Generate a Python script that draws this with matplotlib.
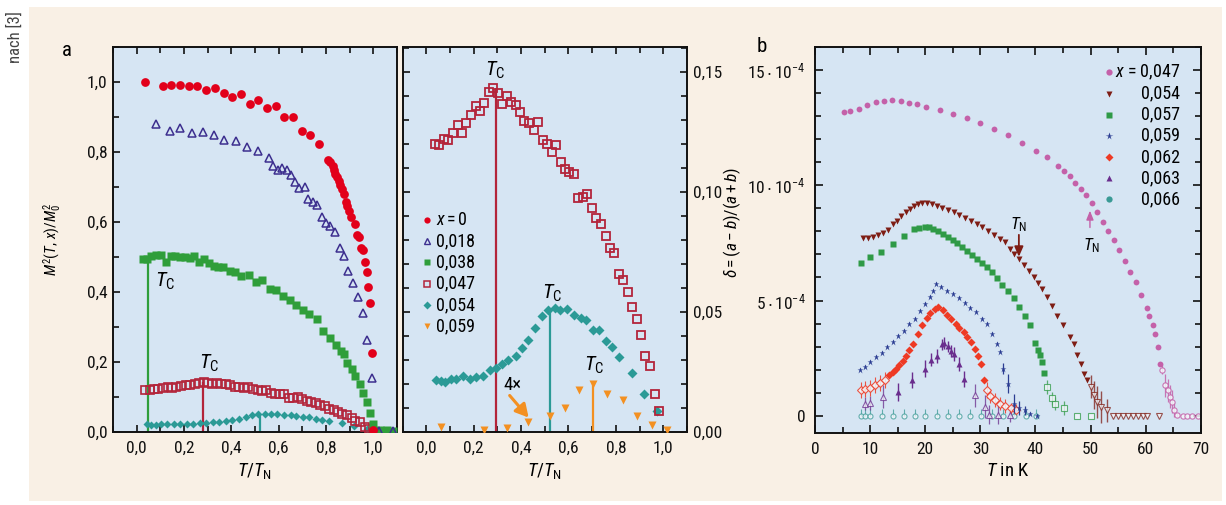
import matplotlib
matplotlib.use("Agg")
import matplotlib.pyplot as plt
from matplotlib import font_manager as fm
from matplotlib.patches import Rectangle
from matplotlib.ticker import MultipleLocator

# ---------------- fonts ----------------
names = {f.name for f in fm.fontManager.ttflist}
base = "DejaVu Sans"
for cand in ["Liberation Sans Narrow", "Roboto Condensed", "Open Sans Condensed", "Liberation Sans"]:
    if cand in names:
        base = cand
        break
plt.rcParams["font.family"] = [base, "DejaVu Sans"]
plt.rcParams["mathtext.fontset"] = "custom"
plt.rcParams["mathtext.rm"] = base
plt.rcParams["mathtext.it"] = base + ":italic"
plt.rcParams["mathtext.bf"] = base + ":bold"
plt.rcParams["mathtext.sf"] = base
plt.rcParams["mathtext.fallback"] = "stixsans"

# ---------------- data: panel a (left) ----------------
a_x0_T = [0.037, 0.110, 0.147, 0.184, 0.220, 0.257, 0.294, 0.331, 0.367, 0.404, 0.441, 0.477, 0.514, 0.551,
          0.588, 0.624, 0.661, 0.698, 0.734, 0.771, 0.809, 0.819, 0.828, 0.833, 0.839, 0.845, 0.853, 0.859,
          0.866, 0.876, 0.884, 0.890, 0.898, 0.907, 0.922, 0.932, 0.939, 0.949, 0.955, 0.963, 0.972, 0.979,
          0.986, 0.993, 1.000]
a_x0_M = [1.000, 0.989, 0.991, 0.992, 0.988, 0.988, 0.977, 0.982, 0.969, 0.956, 0.965, 0.936, 0.949, 0.926,
          0.932, 0.901, 0.901, 0.861, 0.848, 0.823, 0.776, 0.771, 0.760, 0.749, 0.737, 0.728, 0.716, 0.706,
          0.695, 0.680, 0.658, 0.647, 0.632, 0.615, 0.593, 0.563, 0.556, 0.527, 0.520, 0.486, 0.457, 0.414,
          0.369, 0.225, 0.005]

a_x018_T = [0.082, 0.141, 0.184, 0.233, 0.280, 0.325, 0.371, 0.418, 0.466, 0.513, 0.559, 0.576, 0.597, 0.616,
            0.636, 0.650, 0.668, 0.686, 0.710, 0.725, 0.743, 0.763, 0.784, 0.798, 0.819, 0.840, 0.859, 0.876,
            0.895, 0.915, 0.934, 0.955, 0.972, 0.993, 1.025, 1.085]
a_x018_M = [0.881, 0.860, 0.868, 0.854, 0.856, 0.850, 0.835, 0.832, 0.813, 0.804, 0.784, 0.761, 0.749, 0.754,
            0.749, 0.734, 0.713, 0.698, 0.701, 0.667, 0.658, 0.649, 0.613, 0.596, 0.589, 0.571, 0.527, 0.503,
            0.460, 0.427, 0.386, 0.340, 0.263, 0.153, 0.003, 0.003]

a_x038_T = [0.028, 0.042, 0.061, 0.082, 0.103, 0.124, 0.143, 0.164, 0.184, 0.206, 0.226, 0.244, 0.263, 0.284,
            0.305, 0.325, 0.345, 0.364, 0.393, 0.414, 0.442, 0.475, 0.503, 0.531, 0.562, 0.590, 0.619, 0.647,
            0.675, 0.701, 0.729, 0.760, 0.788, 0.816, 0.842, 0.862, 0.876, 0.890, 0.910, 0.924, 0.944, 0.958,
            0.972, 0.986, 1.000, 1.028, 1.056, 1.085]
a_x038_M = [0.493, 0.495, 0.503, 0.505, 0.505, 0.487, 0.503, 0.503, 0.499, 0.499, 0.497, 0.503, 0.486, 0.493,
            0.484, 0.474, 0.472, 0.472, 0.460, 0.456, 0.445, 0.448, 0.429, 0.434, 0.410, 0.407, 0.390, 0.376,
            0.362, 0.349, 0.338, 0.322, 0.289, 0.268, 0.248, 0.232, 0.222, 0.198, 0.179, 0.160, 0.136, 0.112,
            0.085, 0.054, 0.022, 0.006, 0.006, 0.003]

# series shown in both panels (x = 0.047, 0.054) and x = 0.059 (middle only)
x047_T = [0.035, 0.055, 0.075, 0.092, 0.113, 0.132, 0.151, 0.168, 0.188, 0.208, 0.226, 0.245, 0.264, 0.283,
          0.303, 0.320, 0.339, 0.358, 0.378, 0.396, 0.414, 0.434, 0.453, 0.471, 0.491, 0.511, 0.529, 0.547,
          0.567, 0.586, 0.604, 0.624, 0.642, 0.660, 0.680, 0.700, 0.718, 0.737, 0.757, 0.775, 0.794, 0.813,
          0.832, 0.851, 0.868, 0.887, 0.908, 0.924, 0.943, 0.963, 0.983]
x047_M = [0.1201, 0.1197, 0.1222, 0.1215, 0.1243, 0.1278, 0.1243, 0.1287, 0.1319, 0.1357, 0.1338, 0.1368,
          0.1414, 0.1433, 0.1410, 0.1365, 0.1399, 0.1374, 0.1361, 0.1332, 0.1294, 0.1285, 0.1257, 0.1292,
          0.1215, 0.1201, 0.1167, 0.1194, 0.1125, 0.1097, 0.1083, 0.1076, 0.0976, 0.0979, 0.0989, 0.0931,
          0.0893, 0.0868, 0.0817, 0.0768, 0.0747, 0.0656, 0.0632, 0.0581, 0.0521, 0.0472, 0.0403, 0.0315,
          0.0274, 0.0157, 0.0089]

x054_T = [0.042, 0.061, 0.081, 0.103, 0.127, 0.156, 0.184, 0.212, 0.240, 0.269, 0.293, 0.321, 0.347, 0.378,
          0.403, 0.431, 0.460, 0.488, 0.513, 0.542, 0.566, 0.594, 0.622, 0.651, 0.675, 0.703, 0.728, 0.757,
          0.785, 0.813, 0.867, 0.919, 0.973]
x054_M = [0.0215, 0.0211, 0.0208, 0.0222, 0.0219, 0.0232, 0.0222, 0.0229, 0.0232, 0.0260, 0.0268, 0.0282,
          0.0299, 0.0315, 0.0351, 0.0385, 0.0435, 0.0482, 0.0507, 0.0518, 0.0510, 0.0514, 0.0486, 0.0476,
          0.0465, 0.0426, 0.0424, 0.0379, 0.0354, 0.0312, 0.0247, 0.0160, 0.0086]

x059_T = [0.064, 0.245, 0.339, 0.431, 0.523, 0.587, 0.646, 0.704, 0.764, 0.830, 0.891, 0.952, 1.014]
x059_M = [0.0021, 0.0007, 0.0018, 0.0042, 0.0065, 0.0101, 0.0176, 0.0199, 0.0160, 0.0132, 0.0065, 0.0029, 0.0010]

# T_C positions and heights
a_tc_T = [0.049, 0.282, 0.523]
a_tc_M = [0.490, 0.142, 0.050]
m_tc_T = [0.293, 0.523, 0.704]
m_tc_M = [0.1433, 0.0507, 0.0199]

a_legend = ["$x = 0$", "0,018", "0,038", "0,047", "0,054", "0,059"]
a_xticks = [0.0, 0.2, 0.4, 0.6, 0.8, 1.0]
a_xticklabels = ["0,0", "0,2", "0,4", "0,6", "0,8", "1,0"]
a_yticks = [0.0, 0.2, 0.4, 0.6, 0.8, 1.0]
a_yticklabels = ["0,0", "0,2", "0,4", "0,6", "0,8", "1,0"]
m_yticks = [0.0, 0.05, 0.10, 0.15]
m_yticklabels = ["0,00", "0,05", "0,10", "0,15"]

# ---------------- data: panel b (delta in units of 1e-4) ----------------
b047_T = [5.3, 6.3, 7.9, 9.4, 11.0, 12.5, 14.0, 15.6, 17.1, 18.6, 20.1, 22.6, 25.1, 27.5, 30.0, 32.5, 35.0,
          37.6, 40.1, 42.1, 44.1, 45.2, 46.3, 47.2, 48.2, 49.2, 50.2, 51.1, 52.2, 53.2, 54.3, 55.2, 56.2,
          57.2, 58.2, 59.1, 60.2, 60.7, 61.3, 61.7, 62.2, 62.6]
b047_d = [13.20, 13.24, 13.33, 13.49, 13.62, 13.66, 13.70, 13.66, 13.56, 13.53, 13.39, 13.27, 13.10, 12.91,
          12.72, 12.44, 12.19, 11.83, 11.47, 11.21, 10.82, 10.61, 10.39, 10.10, 9.84, 9.57, 9.24, 8.83, 8.40,
          8.01, 7.61, 7.19, 6.70, 6.25, 5.79, 5.22, 4.68, 4.35, 3.92, 3.53, 2.98, 2.25]
b047o_T = [63.0, 63.6, 64.0, 64.4, 64.8, 65.1, 65.7, 66.7, 67.6, 68.5, 69.5]
b047o_d = [2.00, 1.33, 1.11, 0.82, 0.60, 0.25, 0.03, 0.0, 0.0, 0.0, 0.0]
b047o_e = [0.2, 0.5, 0.5, 0.5, 0.5, 0.3, 0.1, 0.0, 0.0, 0.0, 0.0]

b054_T = [8.8, 9.7, 10.6, 11.5, 12.4, 13.2, 14.1, 14.8, 15.6, 16.5, 17.3, 18.0, 18.7, 19.4, 20.3, 21.2, 22.1,
          23.0, 24.1, 25.2, 26.2, 27.3, 28.4, 29.4, 30.3, 31.4, 32.4, 33.5, 34.4, 35.3, 36.2, 37.0, 37.9, 38.8,
          39.7, 40.5, 41.2, 42.1, 43.0, 43.9, 45.0, 46.2, 47.0, 47.6, 48.2, 48.8, 49.4]
b054_d = [7.71, 7.71, 7.77, 7.85, 7.95, 8.05, 8.31, 8.46, 8.67, 8.82, 8.96, 9.11, 9.21, 9.25, 9.24, 9.21, 9.11,
          9.01, 8.92, 8.82, 8.72, 8.57, 8.43, 8.31, 8.17, 8.00, 7.85, 7.67, 7.52, 7.23, 7.02, 6.80, 6.56, 6.30,
          6.01, 5.75, 5.50, 5.14, 4.78, 4.31, 3.92, 3.42, 3.13, 2.62, 2.26, 1.83, 1.54]
b054o_T = [50.0, 50.6, 51.2, 51.9, 53.0, 54.1, 55.0, 55.9, 56.8, 57.8, 58.6, 59.5, 60.3, 62.4]
b054o_d = [1.25, 0.89, 0.61, 0.39, 0.24, 0.0, 0.0, 0.0, 0.0, 0.0, 0.0, 0.0, 0.0, 0.0]
b054o_e = [0.5, 0.6, 0.7, 0.7, 0.5, 0.0, 0.0, 0.0, 0.0, 0.0, 0.0, 0.0, 0.0, 0.0]

b057_T = [8.4, 10.0, 12.0, 14.1, 16.1, 18.0, 18.9, 19.9, 20.7, 21.5, 22.4, 23.3, 24.1, 25.0, 25.8, 26.7, 27.6,
          28.5, 29.4, 30.3, 31.2, 32.1, 33.0, 33.9, 35.0, 36.2, 37.1, 38.1, 39.1, 40.0, 40.5, 40.9, 41.2, 41.5]
b057_d = [6.61, 6.87, 7.09, 7.45, 7.81, 8.10, 8.14, 8.17, 8.20, 8.10, 8.03, 7.88, 7.74, 7.62, 7.48, 7.33, 7.16,
          6.99, 6.80, 6.61, 6.44, 6.25, 5.98, 5.69, 5.43, 5.12, 4.74, 4.31, 3.92, 3.16, 2.87, 2.62, 2.33, 1.86]
b057o_T = [42.1, 43.0, 43.6, 45.2, 47.5, 50.1]
b057o_d = [1.25, 0.75, 0.53, 0.32, 0.0, 0.0]
b057o_e = [0.3, 0.3, 0.3, 0.3, 0.0, 0.0]

b059_T = [8.2, 9.1, 10.0, 11.1, 12.1, 13.0, 14.1, 15.0, 16.1, 17.0, 18.1, 19.1, 20.0, 20.9, 21.4, 22.0, 22.9,
          23.9, 25.0, 26.1, 27.2, 28.2, 29.2, 30.3, 31.3, 32.2, 33.0, 33.6, 34.1, 35.0, 36.1, 37.1, 38.1, 39.1, 40.3]
b059_d = [1.97, 2.12, 2.33, 2.55, 2.72, 2.98, 3.20, 3.44, 3.70, 3.99, 4.21, 4.54, 4.86, 5.17, 5.43, 5.72, 5.58,
          5.43, 5.29, 5.12, 4.88, 4.68, 4.50, 4.21, 3.99, 3.56, 3.13, 2.77, 2.05, 1.40, 0.53, 0.32, 0.24, 0.07, 0.01]
b059_e = [0, 0, 0, 0, 0, 0, 0, 0, 0, 0, 0, 0, 0, 0, 0, 0, 0,
          0, 0, 0, 0, 0, 0, 0, 0, 0, 0, 0, 0.25, 0.4, 0.4, 0.3, 0.2, 0, 0]

b062_T = [13.5, 14.1, 14.7, 15.3, 15.9, 16.5, 17.1, 17.7, 18.7, 19.5, 20.3, 20.9, 21.7, 22.4, 23.2, 23.9, 24.7,
          25.5, 26.1, 27.0, 27.6, 28.4, 29.0, 29.6, 30.2, 30.6]
b062_d = [1.76, 1.90, 2.05, 2.19, 2.38, 2.58, 2.87, 3.13, 3.53, 3.92, 4.25, 4.45, 4.64, 4.71, 4.60, 4.39, 4.21,
          3.99, 3.82, 3.63, 3.42, 3.20, 2.91, 2.58, 2.23, 1.54]
b062o_T = [8.4, 9.1, 10.0, 10.9, 11.8, 12.7, 31.2, 31.8, 32.7, 33.6, 34.5, 35.5, 36.4]
b062o_d = [1.11, 1.15, 1.22, 1.33, 1.43, 1.54, 1.11, 0.85, 0.68, 0.53, 0.42, 0.32, 0.24]
b062o_e = [0.35, 0.35, 0.35, 0.35, 0.35, 0.35, 0.35, 0.3, 0.3, 0.3, 0.3, 0.25, 0.25]

b063_T = [15.0, 17.6, 20.0, 21.1, 22.1, 23.0, 23.5, 24.1, 24.7, 25.2, 26.1, 27.0]
b063_d = [1.04, 1.57, 2.05, 2.44, 2.58, 3.10, 3.16, 3.01, 2.81, 2.69, 2.26, 1.61]
b063_e = [0.40, 0.35, 0.35, 0.30, 0.30, 0.25, 0.25, 0.25, 0.25, 0.30, 0.30, 0.35]
b063o_T = [9.1, 10.0, 12.4, 29.1, 30.9, 31.5, 33.3, 35.3]
b063o_d = [0.53, 0.56, 0.82, 0.89, 0.39, 0.05, 0.05, 0.05]
b063o_e = [0.3, 0.3, 0.5, 0.5, 0.5, 0.4, 0.4, 0.3]

b066_T = [8.4, 9.1, 10.0, 12.1, 14.1, 16.1, 18.1, 20.0, 22.1, 24.1, 26.1, 28.2, 30.2, 32.1, 34.2, 36.2, 38.3, 40.1]
b066_d = [0.0, 0.0, 0.0, 0.0, 0.0, 0.0, 0.0, 0.0, 0.0, 0.0, 0.0, 0.0, 0.0, 0.0, 0.0, 0.0, 0.0, 0.0]
b066_e = [0.3, 0.3, 0.3, 0.3, 0.3, 0.3, 0.3, 0.3, 0.3, 0.3, 0.3, 0.3, 0.3, 0.3, 0.3, 0.3, 0.3, 0.3]

b_legend = ["$x$ = 0,047", "0,054", "0,057", "0,059", "0,062", "0,063", "0,066"]
b_xticks = [0, 10, 20, 30, 40, 50, 60, 70]
b_yticks = [0, 5, 10, 15]
b_yticklabels = ["0", r"$5\cdot10^{-4}$", r"$10\cdot10^{-4}$", r"$15\cdot10^{-4}$"]
b_TN_T = [37.0, 49.9]
b_TN_d = [6.9, 8.9]

# ---------------- styles ----------------
C_RED = "#e2001a"
C_VIO = "#3d2f8f"
C_GRN = "#2f9e3a"
C_DRD = "#b3243a"
C_TEA = "#2b9a96"
C_ORA = "#f39021"
B_PNK = "#c461a9"
B_BRN = "#7e1d14"
B_GRN = "#2f9a46"
B_BLU = "#2b3d92"
B_RED = "#ee3a24"
B_PUR = "#6a2d8d"
B_TEA = "#3a9a95"
AX_BG = "#d6e5f3"
BEIGE = "#f9f0e5"
FS = 12.5

W, H = 1226, 505
fig = plt.figure(figsize=(W / 100, H / 100), dpi=100)
fig.patch.set_facecolor("white")
fig.add_artist(Rectangle((29 / W, 4 / H), (1222 - 29) / W, (498 - 4) / H,
                         transform=fig.transFigure, facecolor=BEIGE, edgecolor="none", zorder=-5))


def px_axes(l, t, r, b):
    return fig.add_axes([l / W, 1 - b / H, (r - l) / W, (b - t) / H])


def style_axes(ax, left=True, right=False):
    ax.set_facecolor(AX_BG)
    for s in ax.spines.values():
        s.set_linewidth(1.4)
        s.set_color("#111111")
    ax.tick_params(which="both", direction="in", top=True, bottom=True, left=left, right=right,
                   width=1.2, labelsize=FS, colors="#111111")
    ax.tick_params(which="major", length=5)
    ax.tick_params(which="minor", length=4)


ax_a = px_axes(113, 47, 397, 432)
ax_m = px_axes(402.5, 47, 687, 432)
ax_b = px_axes(815, 47, 1200.7, 433.3)

# ---------- panel a ----------
style_axes(ax_a)
ax_a.set_xlim(-0.1, 1.1)
ax_a.set_ylim(0.0, 1.1)
ax_a.set_xticks(a_xticks, a_xticklabels)
ax_a.set_yticks(a_yticks, a_yticklabels)
ax_a.xaxis.set_minor_locator(MultipleLocator(0.1))
ax_a.yaxis.set_minor_locator(MultipleLocator(0.1))
ax_a.tick_params(axis="x", pad=6)
ax_a.tick_params(axis="y", pad=4)

ax_a.vlines(a_tc_T, 0, a_tc_M, colors=[C_GRN, C_DRD, C_TEA], lw=1.6, zorder=2)
ax_a.plot(x054_T, x054_M, "D", color=C_TEA, ms=4.2, mec="none", zorder=3)
ax_a.plot(x047_T, x047_M, "s", mfc="none", mec=C_DRD, mew=1.2, ms=5.2, zorder=3)
ax_a.plot(a_x038_T, a_x038_M, "s", color=C_GRN, ms=5.6, mec="none", zorder=3)
ax_a.plot(a_x018_T, a_x018_M, "^", mfc="none", mec=C_VIO, mew=1.1, ms=6, zorder=3)
ax_a.plot(a_x0_T, a_x0_M, "o", color=C_RED, ms=6.3, mec="none", zorder=4)
ax_a.text(0.122, 0.429, r"$T_\mathrm{C}$", fontsize=15, ha="center", va="center")
ax_a.text(0.305, 0.196, r"$T_\mathrm{C}$", fontsize=15, ha="center", va="center")
ax_a.set_xlabel(r"$T/T_\mathrm{N}$", fontsize=FS + 1, labelpad=4)
ax_a.set_ylabel(r"$M^2(T,\,x)/M_0^2$", fontsize=FS - 1.5)
ax_a.yaxis.set_label_coords(-0.175, 0.5)

# ---------- middle panel ----------
style_axes(ax_m, left=True, right=True)
ax_m.set_xlim(-0.1, 1.1)
ax_m.set_ylim(0.0, 0.1603)
ax_m.set_xticks(a_xticks, a_xticklabels)
ax_m.set_yticks(m_yticks, m_yticklabels)
ax_m.xaxis.set_minor_locator(MultipleLocator(0.1))
ax_m.yaxis.set_minor_locator(MultipleLocator(0.01))
ax_m.tick_params(axis="y", labelleft=False, labelright=True, pad=4)
ax_m.tick_params(axis="x", pad=6)

ax_m.vlines(m_tc_T, 0, m_tc_M, colors=[C_DRD, C_TEA, C_ORA], lw=1.6, zorder=2)
ax_m.plot(x059_T, x059_M, "v", color=C_ORA, ms=6, mec="none", zorder=3)
ax_m.plot(x054_T, x054_M, "D", color=C_TEA, ms=5, mec="none", zorder=3)
ax_m.plot(x047_T, x047_M, "s", mfc="none", mec=C_DRD, mew=1.3, ms=6.2, zorder=3)
ax_m.text(0.29, 0.1505, r"$T_\mathrm{C}$", fontsize=15, ha="center", va="center")
ax_m.text(0.532, 0.0577, r"$T_\mathrm{C}$", fontsize=15, ha="center", va="center")
ax_m.text(0.709, 0.0278, r"$T_\mathrm{C}$", fontsize=15, ha="center", va="center")
ax_m.text(0.365, 0.0196, "4×", fontsize=FS + 1, ha="center", va="center")
ax_m.annotate("", xy=(0.432, 0.0060), xytext=(0.352, 0.0152),
              arrowprops=dict(arrowstyle="-|>,head_length=0.55,head_width=0.3", color=C_ORA, lw=2.2,
                              shrinkA=0, shrinkB=0, mutation_scale=14))
ax_m.set_xlabel(r"$T/T_\mathrm{N}$", fontsize=FS + 1, labelpad=4)

# middle legend (manual, in axes coordinates)
m_leg_styles = [dict(marker="o", color=C_RED, mec="none", ms=4.5),
                dict(marker="^", mfc="none", mec=C_VIO, mew=1.0, ms=4.5),
                dict(marker="s", color=C_GRN, mec="none", ms=4.2),
                dict(marker="s", mfc="none", mec=C_DRD, mew=1.1, ms=4.5),
                dict(marker="D", color=C_TEA, mec="none", ms=3.6),
                dict(marker="v", color=C_ORA, mec="none", ms=5)]
for i, (lab, st) in enumerate(zip(a_legend, m_leg_styles)):
    yy = 0.551 - i * 0.0553
    ax_m.plot([0.085], [yy], transform=ax_m.transAxes, linestyle="none", clip_on=False, zorder=6, **st)
    ax_m.text(0.117, yy, lab, transform=ax_m.transAxes, fontsize=FS + 0.5, ha="left", va="center")

# ---------- panel b ----------
style_axes(ax_b, left=True, right=True)
ax_b.set_xlim(0, 70)
ax_b.set_ylim(-0.76, 16.0)
ax_b.set_xticks(b_xticks, [str(v) for v in b_xticks])
ax_b.set_yticks(b_yticks, b_yticklabels)
ax_b.xaxis.set_minor_locator(MultipleLocator(5))
ax_b.yaxis.set_minor_locator(MultipleLocator(1))
ax_b.tick_params(axis="y", pad=7)
ax_b.tick_params(axis="x", pad=6)
ax_b.tick_params(which="major", length=6)

OPEN_FC = "#f3f6fa"
ax_b.errorbar(b066_T, b066_d, yerr=[[0] * len(b066_e), b066_e], fmt="o", ms=3.6, mfc=OPEN_FC, mec=B_TEA,
              mew=0.8, ecolor=B_TEA, elinewidth=0.8, alpha=0.75, zorder=2)
ax_b.errorbar(b063o_T, b063o_d, yerr=b063o_e, fmt="^", ms=4.2, mfc=OPEN_FC, mec=B_PUR, mew=0.8,
              ecolor=B_PUR, elinewidth=0.9, alpha=0.75, zorder=2)
ax_b.errorbar(b062o_T, b062o_d, yerr=b062o_e, fmt="D", ms=3.6, mfc=OPEN_FC, mec=B_RED, mew=0.8,
              ecolor=B_RED, elinewidth=0.8, alpha=0.85, zorder=2)
ax_b.errorbar(b057o_T, b057o_d, yerr=b057o_e, fmt="s", ms=3.8, mfc=OPEN_FC, mec=B_GRN, mew=0.8,
              ecolor=B_GRN, elinewidth=0.9, alpha=0.75, zorder=2)
ax_b.errorbar(b054o_T, b054o_d, yerr=b054o_e, fmt="v", ms=4.2, mfc=OPEN_FC, mec=B_BRN, mew=0.8,
              ecolor=B_BRN, elinewidth=1.0, alpha=0.75, zorder=2)
ax_b.errorbar(b047o_T, b047o_d, yerr=b047o_e, fmt="o", ms=3.8, mfc=OPEN_FC, mec=B_PNK, mew=0.8,
              ecolor=B_PNK, elinewidth=0.9, alpha=0.85, zorder=2)

ax_b.plot(b047_T, b047_d, "o", color=B_PNK, ms=4.2, mec="none", zorder=3)
ax_b.plot(b054_T, b054_d, "v", color=B_BRN, ms=5.0, mec="none", zorder=3)
ax_b.plot(b057_T, b057_d, "s", color=B_GRN, ms=3.9, mec="none", zorder=3)
ax_b.errorbar(b059_T, b059_d, yerr=b059_e, fmt="*", ms=5.0, color=B_BLU, mec="none", ecolor=B_BLU,
              elinewidth=0.9, zorder=3)
ax_b.plot(b062_T, b062_d, "D", color=B_RED, ms=3.8, mec="none", zorder=3)
ax_b.errorbar(b063_T, b063_d, yerr=b063_e, fmt="^", ms=5.0, color=B_PUR, mec="none", ecolor=B_PUR,
              elinewidth=1.0, zorder=3)

# T_N markers
ax_b.text(b_TN_T[0], 8.3, r"$T_\mathrm{N}$", fontsize=FS, ha="center", va="center")
ax_b.annotate("", xy=(b_TN_T[0], b_TN_d[0]), xytext=(b_TN_T[0], 7.85),
              arrowprops=dict(arrowstyle="-|>,head_length=0.5,head_width=0.22", color=B_BRN, lw=1.3,
                              shrinkA=0, shrinkB=0, mutation_scale=12))
ax_b.text(50.2, 7.38, r"$T_\mathrm{N}$", fontsize=FS, ha="center", va="center")
ax_b.annotate("", xy=(b_TN_T[1], b_TN_d[1]), xytext=(b_TN_T[1], 8.17),
              arrowprops=dict(arrowstyle="-|>,head_length=0.45,head_width=0.18", color=B_PNK, lw=1.0,
                              shrinkA=0, shrinkB=0, mutation_scale=12))

ax_b.set_xlabel(r"$T$ in K", fontsize=FS + 1, labelpad=4)
ax_b.set_ylabel(r"$\delta = (a-b)/(a+b)$", fontsize=FS)
ax_b.yaxis.set_label_coords(-0.187, 0.547)

b_leg_styles = [dict(marker="o", color=B_PNK, mec="none", ms=4.5),
                dict(marker="v", color=B_BRN, mec="none", ms=5),
                dict(marker="s", color=B_GRN, mec="none", ms=4),
                dict(marker="*", color=B_BLU, mec="none", ms=5.5),
                dict(marker="D", color=B_RED, mec="none", ms=4),
                dict(marker="^", color=B_PUR, mec="none", ms=5),
                dict(marker="o", color=B_TEA, mec="none", ms=4.5)]
for i, (lab, st) in enumerate(zip(b_legend, b_leg_styles)):
    yy = 0.934 - i * 0.0546
    ax_b.plot([0.763], [yy], transform=ax_b.transAxes, linestyle="none", clip_on=False, zorder=6, **st)
    ax_b.text(0.946, yy, lab, transform=ax_b.transAxes, fontsize=FS + 0.5, ha="right", va="center")

# ---------- figure texts ----------
fig.text(67 / W, 1 - 50 / H, "a", fontsize=15, ha="center", va="center")
fig.text(762 / W, 1 - 47 / H, "b", fontsize=15, ha="center", va="center")
fig.text(15 / W, 1 - 11 / H, "nach [3]", fontsize=12, rotation=90, ha="center", va="top", color="#444444")

fig.savefig("out.png", dpi=100, facecolor=fig.get_facecolor())
